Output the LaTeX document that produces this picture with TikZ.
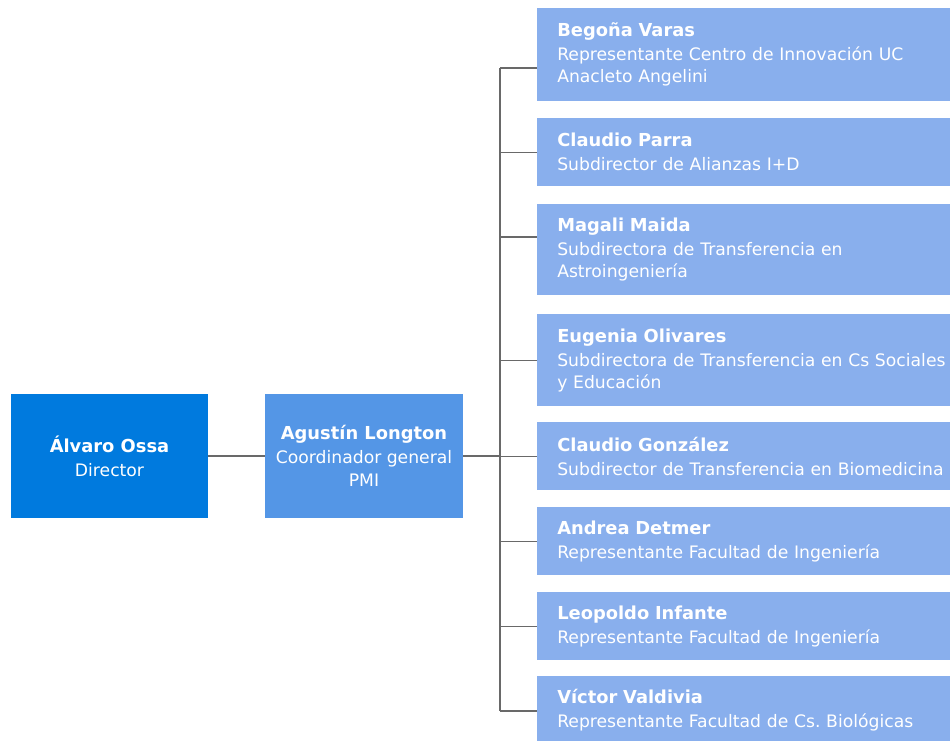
\documentclass[tikz,border=0pt]{standalone}
\usepackage{fontspec}
\setmainfont{DejaVu Sans}
\usepackage{xcolor}
\definecolor{directorblue}{RGB}{0,122,222}
\definecolor{coordblue}{RGB}{84,150,230}
\definecolor{teamblue}{RGB}{137,175,237}
\definecolor{linkgray}{RGB}{105,105,105}
\newcommand{\who}[1]{{\fontsize{13.4}{16.5}\selectfont\bfseries #1}}
\frenchspacing

\begin{document}
\begin{tikzpicture}[x=0.75pt, y=-0.75pt,
    headbox/.style={rectangle, text=white, align=center, inner sep=0pt,
        font=\fontsize{12.9}{17}\selectfont},
    teambox/.style={rectangle, fill=teamblue, text=white, anchor=north west,
        align=left, text width=300pt, inner xsep=15pt, inner ysep=0pt,
        font=\fontsize{12.9}{16.5}\selectfont},
    link/.style={linkgray, line width=0.9pt}]
    \clip (0,0) rectangle (950,740);

    % Director and coordinator
    \node[headbox, fill=directorblue, minimum width=147.75pt, minimum height=93pt]
        (dir) at (109.5,456) {\who{Álvaro Ossa}\\[1pt] Director};
    \node[headbox, fill=coordblue, minimum width=148.5pt, minimum height=93pt]
        (coord) at (364,456) {\who{Agustín Longton}\\[1pt] Coordinador general\\ PMI};

    % Team members
    \node[teambox, minimum height=69.75pt] (b1) at (537,8)
        {\who{Begoña Varas}\\[1.5pt] Representante Centro de Innovación UC\\ Anacleto Angelini};
    \node[teambox, minimum height=51pt] (b2) at (537,118)
        {\who{Claudio Parra}\\[1.5pt] Subdirector de Alianzas I+D};
    \node[teambox, minimum height=68.25pt] (b3) at (537,204)
        {\who{Magali Maida}\\[1.5pt] Subdirectora de Transferencia en\\ Astroingeniería};
    \node[teambox, minimum height=69pt] (b4) at (537,314)
        {\who{Eugenia Olivares}\\[1.5pt] Subdirectora de Transferencia en Cs Sociales\\ y Educación};
    \node[teambox, minimum height=51pt] (b5) at (537,422)
        {\who{Claudio González}\\[1.5pt] Subdirector de Transferencia en Biomedicina};
    \node[teambox, minimum height=51pt] (b6) at (537,507)
        {\who{Andrea Detmer}\\[1.5pt] Representante Facultad de Ingeniería};
    \node[teambox, minimum height=51pt] (b7) at (537,592)
        {\who{Leopoldo Infante}\\[1.5pt] Representante Facultad de Ingeniería};
    \node[teambox, minimum height=51pt] (b8) at (537,676)
        {\who{Víctor Valdivia}\\[1.5pt] Representante Facultad de Cs. Biológicas};

    % Connectors
    \coordinate (trunk) at (500,456);
    \coordinate (top) at (500,68);
    \coordinate (mid3) at (500,237);
    \coordinate (bot) at (500,711);
    \draw[link] (dir) -- (coord);
    \draw[link] (coord) -- (trunk);
    \draw[link] (top) -- (bot);
    \draw[link] (top) -- (top -| b1.west);
    \draw[link] (b2.west -| trunk) -- (b2.west);
    \draw[link] (mid3) -- (mid3 -| b3.west);
    \draw[link] (b4.west -| trunk) -- (b4.west);
    \draw[link] (b5.west -| trunk) -- (b5.west);
    \draw[link] (b6.west -| trunk) -- (b6.west);
    \draw[link] (b7.west -| trunk) -- (b7.west);
    \draw[link] (bot) -- (bot -| b8.west);
\end{tikzpicture}
\end{document}
